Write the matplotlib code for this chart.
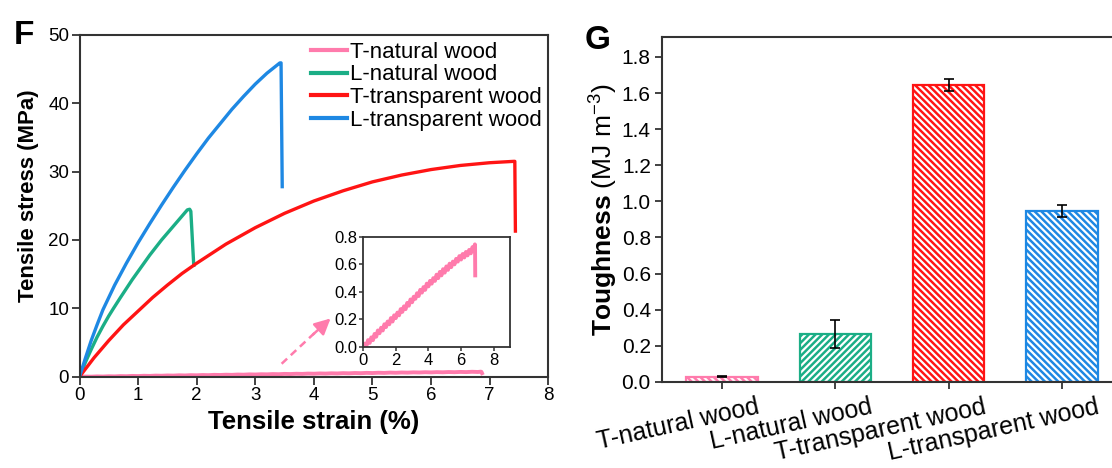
# Tensile curves (F) and toughness bars (G) for natural vs transparent wood

import matplotlib
matplotlib.use('Agg')
import matplotlib.pyplot as plt

plt.rcParams['font.family'] = ['Liberation Sans', 'DejaVu Sans']
plt.rcParams['mathtext.fontset'] = 'custom'
plt.rcParams['mathtext.rm'] = 'Liberation Sans'
plt.rcParams['mathtext.bf'] = 'Liberation Sans:bold'
plt.rcParams['hatch.linewidth'] = 1.6

# ---- data ----
# L-transparent wood
lt_strain = [0, 0.1, 0.2, 0.3, 0.4, 0.5, 0.6, 0.7, 0.8, 0.9, 1.0, 1.2, 1.4, 1.6, 1.8,
             2.0, 2.2, 2.4, 2.6, 2.8, 3.0, 3.2, 3.42, 3.44, 3.46]
lt_stress = [0, 2.7, 5.3, 7.6, 9.8, 11.6, 13.4, 15.0, 16.6, 18.1, 19.6, 22.4, 25.1, 27.7, 30.2,
             32.6, 34.9, 37.0, 39.1, 41.0, 42.8, 44.4, 45.9, 45.9, 27.8]
# L-natural wood
ln_strain = [0, 0.1, 0.2, 0.3, 0.4, 0.5, 0.58, 0.7, 0.8, 0.9, 1.0, 1.1, 1.2, 1.3, 1.4,
             1.5, 1.6, 1.7, 1.8, 1.84, 1.88, 1.9, 1.95]
ln_stress = [0, 2.1, 4.0, 5.8, 7.4, 8.9, 10.0, 11.6, 12.9, 14.2, 15.4, 16.6, 17.8, 18.9, 20.0,
             21.0, 22.0, 23.0, 24.0, 24.4, 24.5, 24.2, 16.3]
# T-transparent wood
tt_strain = [0, 0.25, 0.5, 0.75, 1.0, 1.25, 1.5, 1.75, 2.0, 2.5, 3.0, 3.5, 4.0, 4.5,
             5.0, 5.5, 6.0, 6.5, 7.0, 7.41, 7.43, 7.44]
tt_stress = [0, 2.8, 5.3, 7.6, 9.6, 11.6, 13.4, 15.1, 16.6, 19.4, 21.8, 23.9, 25.7, 27.2,
             28.5, 29.5, 30.3, 30.9, 31.3, 31.5, 31.5, 21.3]
# T-natural wood (same data shown in the inset)
tn_strain = [0.0, 0.1, 0.2, 0.3, 0.4, 0.5, 0.6, 0.7, 0.8, 0.9,
             1.0, 1.1, 1.2, 1.3, 1.4, 1.5, 1.6, 1.7, 1.8, 1.9,
             2.0, 2.1, 2.2, 2.3, 2.4, 2.5, 2.6, 2.7, 2.8, 2.9,
             3.0, 3.1, 3.2, 3.3, 3.4, 3.5, 3.6, 3.7, 3.8, 3.9,
             4.0, 4.1, 4.2, 4.3, 4.4, 4.5, 4.6, 4.7, 4.8, 4.9,
             5.0, 5.1, 5.2, 5.3, 5.4, 5.5, 5.6, 5.7, 5.8, 5.9,
             6.0, 6.1, 6.2, 6.3, 6.4, 6.5, 6.6, 6.7, 6.8, 6.85, 6.86, 6.87]
tn_stress = [0.0, 0.025, 0.01, 0.05, 0.03, 0.07, 0.05, 0.095, 0.075, 0.12,
             0.1, 0.14, 0.12, 0.165, 0.145, 0.185, 0.165, 0.21, 0.185, 0.23,
             0.21, 0.25, 0.23, 0.275, 0.255, 0.295, 0.275, 0.32, 0.3, 0.345,
             0.325, 0.365, 0.35, 0.39, 0.37, 0.415, 0.395, 0.435, 0.415, 0.46,
             0.44, 0.48, 0.46, 0.5, 0.48, 0.525, 0.5, 0.545, 0.52, 0.565,
             0.54, 0.585, 0.56, 0.605, 0.58, 0.62, 0.6, 0.64, 0.62, 0.66,
             0.635, 0.675, 0.65, 0.69, 0.665, 0.705, 0.68, 0.725, 0.695, 0.745, 0.71, 0.52]

samples = ['T-natural wood', 'L-natural wood', 'T-transparent wood', 'L-transparent wood']
toughness = [0.03, 0.265, 1.645, 0.945]
toughness_err = [0.005, 0.078, 0.035, 0.033]

pink = '#FF7BAC'
green = '#1BAE86'
red = '#FF1414'
blue = '#1E88E3'
bar_colors = [pink, green, red, blue]
bar_hatch = ['\\\\\\\\\\', '/////', '\\\\\\\\\\', '\\\\\\\\\\']
spine_c = '#333333'

fig = plt.figure(figsize=(11.12, 4.68), dpi=100)

# ---- panel F ----
ax = fig.add_axes([0.0715, 0.195, 0.4215, 0.7305])
ax.plot(tn_strain, tn_stress, color=pink, lw=2.8, label='T-natural wood')
ax.plot(ln_strain, ln_stress, color=green, lw=2.4, label='L-natural wood')
ax.plot(tt_strain, tt_stress, color=red, lw=2.4, label='T-transparent wood')
ax.plot(lt_strain, lt_stress, color=blue, lw=2.4, label='L-transparent wood')
ax.set_xlim(0, 8)
ax.set_ylim(0, 50)
ax.set_xticks(range(0, 9))
ax.set_yticks(range(0, 51, 10))
ax.tick_params(direction='out', length=5.5, width=1.3, labelsize=13.5, color=spine_c, pad=2)
for s in ax.spines.values():
    s.set_linewidth(1.5)
    s.set_color(spine_c)
ax.set_xlabel('Tensile strain (%)', fontsize=18.5, fontweight='bold', labelpad=4)
ax.set_ylabel('Tensile stress (MPa)', fontsize=16, fontweight='bold')
ax.yaxis.set_label_coords(-0.087, 0.53)
for h in ax.legend(loc='upper right', bbox_to_anchor=(1.0, 1.0), frameon=False, fontsize=16,
                   handlelength=1.6, handletextpad=0.13, labelspacing=0.08,
                   borderaxespad=0, borderpad=0.3).get_lines():
    h.set_linewidth(3)

# dashed arrow pointing at the inset
ax.plot([3.45, 4.05], [1.9, 6.7], color=pink, lw=1.8, ls=(0, (3, 2)))
ax.annotate('', xy=(4.32, 8.8), xytext=(3.95, 5.9),
            arrowprops=dict(arrowstyle='-|>', color=pink, lw=1.8, mutation_scale=24))

ins = fig.add_axes([0.3266, 0.2585, 0.132, 0.2355])
ins.plot(tn_strain, tn_stress, color=pink, lw=2.8)
ins.set_xlim(0, 9)
ins.set_ylim(0, 0.8)
ins.set_xticks([0, 2, 4, 6, 8])
ins.set_yticks([0, 0.2, 0.4, 0.6, 0.8])
ins.set_yticklabels(['0.0', '0.2', '0.4', '0.6', '0.8'])
ins.tick_params(direction='out', length=3, width=1.1, labelsize=12, color=spine_c, pad=1)
for s in ins.spines.values():
    s.set_linewidth(1.3)
    s.set_color(spine_c)

fig.text(0.012, 0.905, 'F', fontsize=24, fontweight='bold')

# ---- panel G ----
ax2 = fig.add_axes([0.5953, 0.1838, 0.4047, 0.7371])
pos = list(range(len(samples)))
ax2.bar(pos, toughness, width=0.63, color=bar_colors, edgecolor='white',
        hatch=bar_hatch, linewidth=0)
ax2.bar(pos, toughness, width=0.63, fill=False, edgecolor=bar_colors, linewidth=1.6)
ax2.errorbar(pos, toughness, yerr=toughness_err, fmt='none', ecolor='black',
             elinewidth=1.2, capsize=3.5, capthick=1.2)
ax2.set_xlim(-0.53, 3.44)
ax2.set_ylim(0, 1.91)
ax2.set_yticks([0, 0.2, 0.4, 0.6, 0.8, 1.0, 1.2, 1.4, 1.6, 1.8])
ax2.set_yticklabels(['0.0', '0.2', '0.4', '0.6', '0.8', '1.0', '1.2', '1.4', '1.6', '1.8'])
ax2.set_xticks(pos)
ax2.set_xticklabels([])
# slanted category labels, placed like the original (right end past the tick)
for i, name in enumerate(samples):
    ax2.annotate(name, xy=(i, 0), xycoords=('data', 'axes fraction'),
                 xytext=(34, -13), textcoords='offset pixels', rotation=12.5,
                 ha='right', va='top', rotation_mode='anchor', fontsize=18)
ax2.tick_params(direction='out', length=5, width=1.3, labelsize=15, color=spine_c, pad=3)
ax2.spines['right'].set_visible(False)
for s in ['left', 'bottom', 'top']:
    ax2.spines[s].set_linewidth(1.5)
    ax2.spines[s].set_color(spine_c)
ax2.set_ylabel(r'$\mathbf{Toughness}$ (MJ m$^{-3}$)', fontsize=19, labelpad=2)

fig.text(0.526, 0.895, 'G', fontsize=24, fontweight='bold')

fig.savefig('out.png', dpi=100)
